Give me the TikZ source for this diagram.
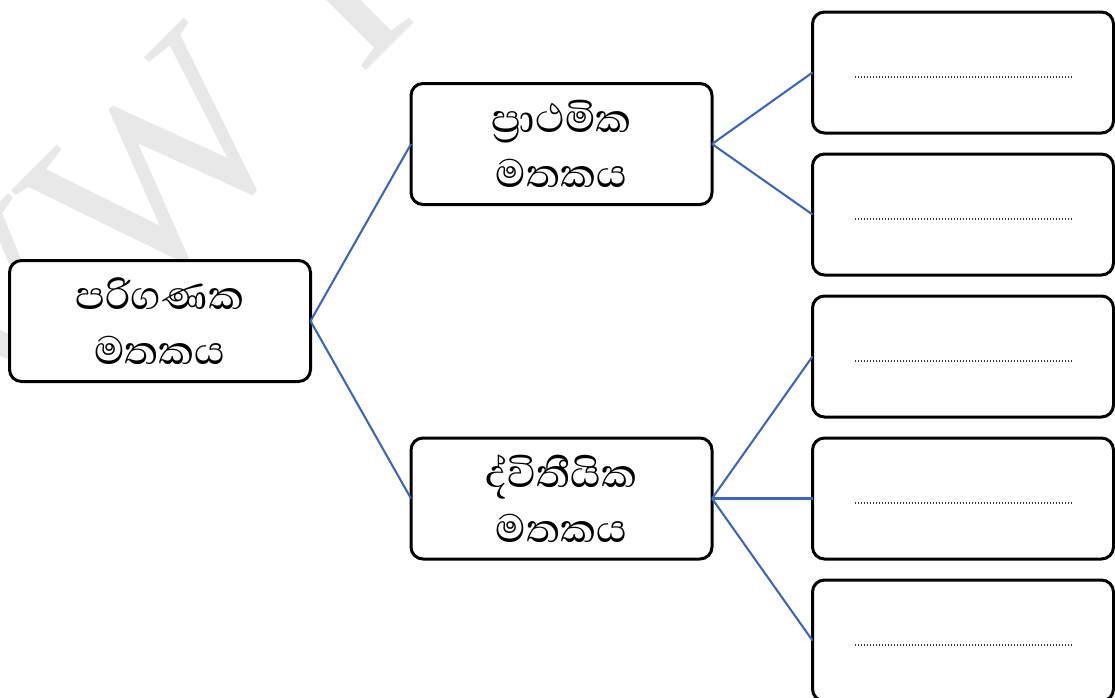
\documentclass[tikz,border=0pt]{standalone}
\usepackage{fontspec}
\newfontfamily\sinhalafnt[Script=Sinhala]{Abhaya Libre}
\newfontfamily\wmfont{Liberation Serif}
\usetikzlibrary{calc}
\definecolor{linkblue}{RGB}{62,102,178}
\definecolor{wmgray}{RGB}{232,232,232}
\definecolor{dotgray}{RGB}{60,60,60}
\tikzset{
  rbox/.style={draw=black, line width=2.25pt, rounded corners=9pt, fill=white,
    minimum width=301*0.75pt, minimum height=121*0.75pt, inner sep=0pt, outer sep=0pt,
    align=center, font=\sinhalafnt\fontsize{38}{41}\selectfont},
  link/.style={draw=linkblue, line width=1.55pt},
  leader/.style={draw=dotgray, line width=0.8pt, dash pattern=on 0.8pt off 1.45pt},
  wm/.style={text=wmgray, font=\wmfont\fontsize{195}{195}\selectfont, rotate=45, anchor=base, inner sep=0pt}
}
\begin{document}
\begin{tikzpicture}[x=0.75pt, y=-0.75pt]
\useasboundingbox (0,0) rectangle (1115,697);
\fill[white] (0,0) rectangle (1115,697);
% watermark
\node[wm] (wmV) at (65,378) {V};
\node[wm] (wmW) at (218,225) {W};
\node[wm] (wmI) at (390,47) {I};
% boxes
\node[rbox] (A) at (160,321) {පරිගණක\\මතකය};
\node[rbox] (B) at (561.5,144) {ප්^^^^200dරාථමික\\මතකය};
\node[rbox] (C) at (561.5,498.5) {ද්විතීයික\\මතකය};
\node[rbox] (R1) at (963,72.5) {};
\node[rbox] (R2) at (963,214.5) {};
\node[rbox] (R3) at (963,356.5) {};
\node[rbox] (R4) at (963,498.5) {};
\node[rbox] (R5) at (963,640.5) {};
% connectors
\draw[link] (A.east) -- (B.west);
\draw[link] (A.east) -- (C.west);
\draw[link] (B.east) -- (R1.west);
\draw[link] (B.east) -- (R2.west);
\draw[link] (C.east) -- (R3.west);
\draw[link] (C.east) -- (R4.west);
\draw[link] (C.east) -- (R5.west);
% dotted leaders
\foreach \r in {R1,R2,R3,R4,R5}{
  \draw[leader] ($(\r.center)+(-108,4.5)$) -- ($(\r.center)+(109,4.5)$);
}
\end{tikzpicture}
\end{document}
